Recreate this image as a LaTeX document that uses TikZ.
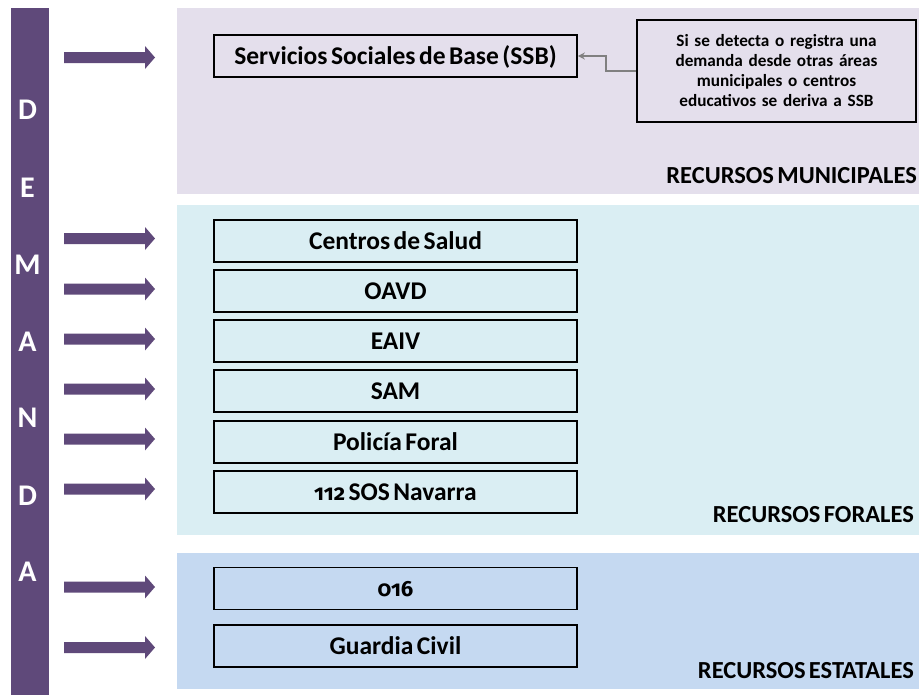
\documentclass[tikz,border=0pt]{standalone}
\usepackage{fontspec}
\setmainfont{Carlito}[WordSpace=0.6]
\newfontfamily\osf{Fira Sans}[Numbers=OldStyle, Scale=0.86]
\usetikzlibrary{arrows.meta}
\definecolor{barpurple}{HTML}{5F497A}
\definecolor{munic}{HTML}{E4DFEC}
\definecolor{foral}{HTML}{DAEEF3}
\definecolor{estatal}{HTML}{C5D9F1}
\definecolor{connector}{HTML}{808080}
\tikzset{
  resbox/.style={draw=black, line width=1.6pt, minimum width=363pt, minimum height=42pt,
    inner sep=0pt, font=\fontsize{25.5}{30}\selectfont\bfseries, text height=16.4pt, text depth=0pt},
  panellabel/.style={anchor=east, inner sep=0pt, font=\fontsize{24.5}{29}\selectfont\bfseries,
    text height=15.8pt, text depth=0pt},
  letter/.style={text=white, inner sep=0pt, font=\fontsize{30}{33}\selectfont\bfseries,
    text height=19.3pt, text depth=0pt},
  notebox/.style={draw=black, line width=1.6pt, fill=munic, minimum width=279pt, minimum height=102pt,
    inner sep=0pt, text width=270pt, align=center, font=\fontsize{17.2}{20}\selectfont\bfseries},
  bigarrow/.style={fill=barpurple}
}
\begin{document}
\begin{tikzpicture}[x=1pt,y=-1pt]
\useasboundingbox (0,0) rectangle (919,696);
% panels
\fill[munic] (177,8) rectangle (919,194);
\fill[foral] (177,205) rectangle (919,535);
\fill[estatal] (177,553) rectangle (919,689);
% left bar
\fill[barpurple] (11,8) rectangle (49,695);
\foreach \l/\yy [count=\i] in {D/110,E/188,M/265,A/342,N/418,D/496,A/572}
  \node[letter] (L\i) at (27.5,\yy) {\l};
% arrows
\foreach \yy in {57.5,238.5,289,339,389,439,489,587,647.5}
  \fill[bigarrow] (64,{\yy-5.5}) -- (145,{\yy-5.5}) -- (145,{\yy-11.5}) -- (155,\yy)
     -- (145,{\yy+11.5}) -- (145,{\yy+5.5}) -- (64,{\yy+5.5}) -- cycle;
% boxes
\node[resbox] (ssb) at (395.5,56) {Servicios Sociales de Base (SSB)};
\node[resbox] (salud) at (395.5,241) {Centros de Salud};
\node[resbox] (oavd) at (395.5,291) {OAVD};
\node[resbox] (eaiv) at (395.5,341) {EAIV};
\node[resbox] (sam) at (395.5,391) {SAM};
\node[resbox] (policia) at (395.5,442) {Policía Foral};
\node[resbox] (sos) at (395.5,492) {{\osf 112} SOS Navarra};
\node[resbox] (n016) at (395.5,588.5) {\osf 016};
\node[resbox] (guardia) at (395.5,646) {Guardia Civil};
% note
\node[notebox] (note) at (776.5,71) {Si se detecta o registra una\\demanda desde otras áreas\\municipales o centros\\educativos se deriva a SSB};
\draw[connector, line width=2.4pt, -{Stealth[length=7pt,width=7pt]}] (note.west) -- ++(-30,0) |- (ssb.east);
% panel labels
\node[panellabel] (lmun) at (917,176) {RECURSOS MUNICIPALES};
\node[panellabel] (lfor) at (914,515) {RECURSOS FORALES};
\node[panellabel] (lest) at (914,671) {RECURSOS ESTATALES};
\end{tikzpicture}
\end{document}
